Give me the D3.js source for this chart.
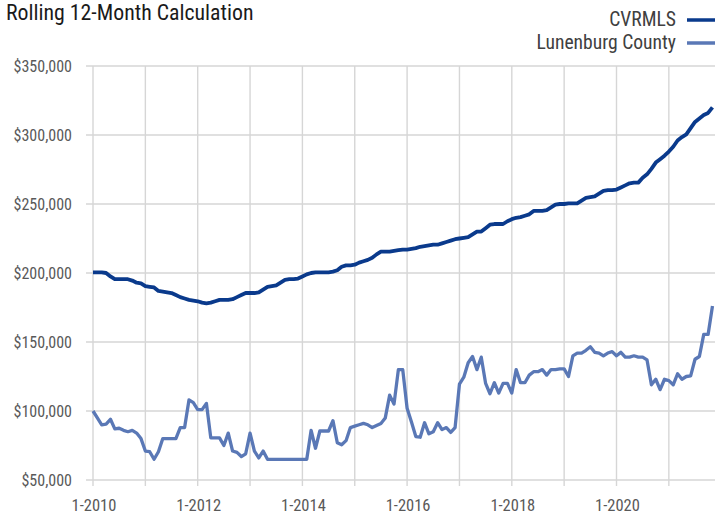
<!DOCTYPE html>
<html>
<head>
<meta charset="utf-8">
<script src="https://cdn.jsdelivr.net/npm/d3@7"></script>
<style>
  body { margin: 0; background: #fff; }
  svg text { font-family: "Liberation Sans Narrow", "Arial Narrow", "Roboto Condensed", sans-serif; }
</style>
</head>
<body>
<div id="chart_container"></div>
<script>
// monthly values, first month is 1-2010
var start_year = 2010
var series_names = ['CVRMLS', 'Lunenburg County']
var series_colors = ['#0a3a8c', '#5a78b6']

var cvrmls = [200500, 200500, 200500, 200000, 197500, 195500, 195500, 195500, 195500, 194500, 193000, 192500,
              190500, 190000, 189500, 187000, 186500, 186000, 185500, 184000, 182500, 181500, 180500, 180000,
              179500, 178500, 178000, 178500, 179500, 180500, 180500, 180500, 181000, 182500, 184000, 185500,
              185500, 185500, 186000, 188000, 190000, 190500, 191000, 193000, 195000, 195500, 195500, 196000,
              197500, 199000, 200000, 200500, 200500, 200500, 200500, 201000, 202000, 204500, 205500, 205500,
              206000, 207500, 208500, 209500, 211000, 213500, 215500, 215500, 215500, 216000, 216500, 217000,
              217000, 217500, 218000, 219000, 219500, 220000, 220500, 220500, 221500, 222500, 223500, 224500,
              225000, 225500, 226000, 228000, 230000, 230000, 232500, 235000, 235500, 235500, 235500, 237500,
              239000, 240000, 240500, 241500, 242500, 245000, 245000, 245000, 245500, 247500, 249500, 250000,
              250000, 250500, 250500, 250500, 252500, 254500, 255000, 255500, 257500, 259500, 260000, 260000,
              260500, 262000, 263500, 265000, 265500, 265500, 269000, 271500, 275500, 280000, 282500, 285000,
              288000, 291500, 296000, 298500, 300500, 305000, 309500, 312000, 314500, 316000, 320000]

var lunenburg = [100000, 95000, 90000, 90500, 94000, 87000, 87500, 86000, 85000, 86000, 84000, 80000,
                 71000, 70500, 65000, 70500, 80000, 80000, 80000, 80000, 88000, 88000, 108000, 106000,
                 101000, 101000, 105500, 80500, 80500, 80500, 75000, 84000, 71000, 70000, 67000, 69000,
                 84000, 71000, 66000, 71000, 65000, 65000, 65000, 65000, 65000, 65000, 65000, 65000,
                 65000, 65000, 86000, 73000, 85500, 85500, 85500, 93000, 77000, 75500, 78500, 88000,
                 89000, 90000, 91000, 90000, 88000, 89500, 91000, 95000, 111500, 105000, 130000, 130000,
                 102000, 92000, 81500, 81000, 91500, 83500, 85000, 91500, 86500, 88000, 84500, 88000,
                 119500, 124500, 135000, 139500, 130000, 139000, 120000, 112500, 120500, 113000, 120000, 120000,
                 113000, 130000, 120500, 120500, 126000, 128500, 128500, 130000, 126000, 130000, 130000, 130500,
                 130500, 125000, 140000, 142000, 142000, 144000, 146500, 142500, 142000, 140000, 142000, 143000,
                 140000, 142500, 139000, 139000, 140000, 139000, 139000, 137000, 119000, 123000, 115500, 123000,
                 122000, 119000, 127000, 123000, 125000, 125500, 137500, 139500, 155500, 155500, 176000]

var y_ticks = [50000, 100000, 150000, 200000, 250000, 300000, 350000]
var x_years = [2010, 2011, 2012, 2013, 2014, 2015, 2016, 2017, 2018, 2019, 2020, 2021, 2022]
var x_labels = ['1-2010', '1-2012', '1-2014', '1-2016', '1-2018', '1-2020']

var width = 715, height = 515

var svg = d3.select("#chart_container")
            .append("svg")
            .attr("width", width)
            .attr("height", height)

// month index -> x position (Excel date axis spaces months evenly)
var x = d3.scaleLinear()
            .domain([0, 144])
            .range([93, 93 + 144 * 4.3625])

var y = d3.scaleLinear()
            .domain([50000, 350000])
            .range([480, 66])

function month_of(year){ return (year - start_year) * 12 }

// horizontal grid
svg.append("g")
    .selectAll("line")
    .data(y_ticks)
    .enter()
    .append("line")
        .attr("x1", 86)
        .attr("x2", width)
        .attr("y1", function(d){ return y(d) })
        .attr("y2", function(d){ return y(d) })
        .attr("stroke", "#d6d6d6")
        .attr("stroke-width", 1.4)

// vertical grid + tick marks below the axis
svg.append("g")
    .selectAll("line")
    .data(x_years)
    .enter()
    .append("line")
        .attr("x1", function(d){ return x(month_of(d)) })
        .attr("x2", function(d){ return x(month_of(d)) })
        .attr("y1", y(350000))
        .attr("y2", y(50000) + 6)
        .attr("stroke", "#d6d6d6")
        .attr("stroke-width", 1.4)

// y labels
svg.append("g")
    .selectAll("text")
    .data(y_ticks)
    .enter()
    .append("text")
        .attr("x", 72)
        .attr("y", function(d){ return y(d) + 6 })
        .attr("text-anchor", "end")
        .attr("font-size", "16px")
        .attr("fill", "#595959")
        .text(function(d){ return "$" + d3.format(",")(d) })

// x labels
svg.append("g")
    .selectAll("text")
    .data(x_labels)
    .enter()
    .append("text")
        .attr("x", function(d){ return x(month_of(+d.split('-')[1])) + 1 })
        .attr("y", 511)
        .attr("text-anchor", "middle")
        .attr("font-size", "16.5px")
        .attr("fill", "#595959")
        .text(function(d){ return d })

// lines
var all_series = [cvrmls, lunenburg]
var line = d3.line()
                .x(function(d, i){ return x(i) })
                .y(function(d){ return y(d) })

svg.append("g")
    .selectAll("path")
    .data(all_series)
    .enter()
    .append("path")
        .attr("fill", "none")
        .attr("stroke", function(d, i){ return series_colors[i] })
        .attr("stroke-width", function(d, i){ return i == 0 ? 3.8 : 3.3 })
        .attr("stroke-linejoin", "round")
        .attr("d", line)

// title
svg.append("text")
    .attr("x", 6)
    .attr("y", 20)
    .attr("font-size", "21.8px")
    .attr("fill", "#1a1a1a")
    .text("Rolling 12-Month Calculation")

// legend
var legend = svg.append("g")
    .selectAll("g")
    .data(series_names)
    .enter()
    .append("g")
        .attr("transform", function(d, i){ return "translate(0," + (i * 23) + ")" })

legend.append("text")
    .attr("x", 676)
    .attr("y", 25.5)
    .attr("text-anchor", "end")
    .attr("font-size", "19.6px")
    .attr("fill", "#404040")
    .text(function(d){ return d })

legend.append("line")
    .attr("x1", 687)
    .attr("x2", 715)
    .attr("y1", 20)
    .attr("y2", 20)
    .attr("stroke", function(d, i){ return series_colors[i] })
    .attr("stroke-width", 3.5)
</script>
</body>
</html>
